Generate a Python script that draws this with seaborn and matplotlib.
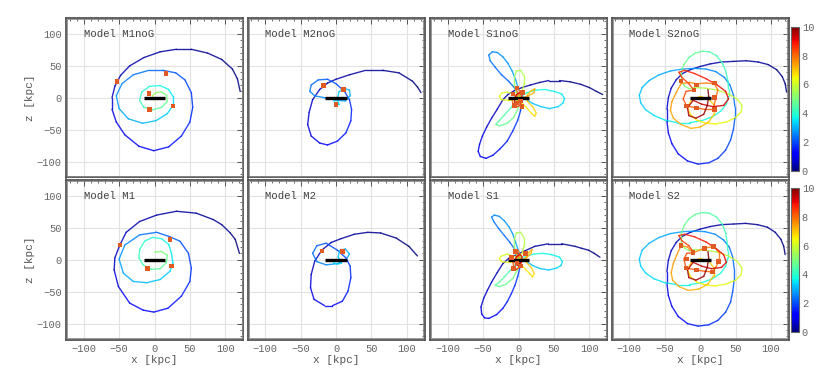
import numpy as np
import matplotlib
matplotlib.use("Agg")
import matplotlib.pyplot as plt
import seaborn as sns
from matplotlib.collections import LineCollection
from matplotlib.colors import Normalize
from matplotlib.cm import ScalarMappable
from matplotlib.patches import Rectangle

# ---- orbit data: x [kpc], z [kpc], time [Gyr] ----
m1nog_x = [121, 117, 110, 95, 75, 52, 31, 8, -15, -35, -48, -56, -60, -60, -54, -42, -22, -1, 20, 38, 50, 54, 52, 43, 30, 12, -8, -30, -46, -54, -50, -37, -17, 2, 18, 26, 26, 20, 8, -7, -18, -21, -15, -3, 10, 18, 17, 10, 2, -3, -1, 4]
m1nog_z = [10, 30, 45, 60, 70, 76, 76, 72, 63, 50, 35, 18, 0, -18, -38, -58, -76, -83, -77, -60, -38, -15, 8, 28, 39, 43, 43, 36, 22, 3, -17, -33, -40, -36, -25, -12, 2, 13, 19, 18, 9, -4, -15, -19, -15, -6, 4, 9, 8, 3, -3, -1]
m1nog_t = [0.0, 0.04, 0.08, 0.12, 0.16, 0.2, 0.25, 0.3, 0.36, 0.42, 0.5, 0.58, 0.66, 0.76, 0.88, 1.0, 1.12, 1.24, 1.36, 1.48, 1.6, 1.72, 1.84, 1.96, 2.08, 2.2, 2.32, 2.44, 2.56, 2.68, 2.8, 2.92, 3.04, 3.16, 3.28, 3.38, 3.48, 3.6, 3.75, 3.9, 4.05, 4.2, 4.35, 4.5, 4.65, 4.8, 4.95, 5.1, 5.3, 5.55, 5.8, 6.1]
m1nog_mx = [-53, 16, -8, 26, -7]
m1nog_mz = [25, 38, 7, -13, -18]

m1_x = [120, 114, 107, 95, 83, 59, 31, 3, -21, -40, -49, -56, -57, -51, -35, -16, -1, 19, 38, 50, 52, 48, 36, 22, 3, -21, -42, -50, -44, -30, -11, 8, 22, 26, 24, 20, 10, -3, -14, -21, -22, -16, -4, 8, 17, 18, 10, 0]
m1_z = [10, 32, 42, 55, 63, 73, 76, 70, 60, 43, 23, 3, -16, -42, -68, -79, -82, -76, -57, -34, -13, 10, 29, 36, 43, 39, 23, 1, -21, -34, -36, -31, -18, -5, 10, 24, 33, 35, 29, 16, 3, -8, -15, -14, -4, 7, 13, 12]
m1_t = [0.0, 0.05, 0.1, 0.15, 0.2, 0.26, 0.32, 0.38, 0.45, 0.52, 0.6, 0.68, 0.78, 0.9, 1.02, 1.14, 1.24, 1.36, 1.5, 1.64, 1.78, 1.92, 2.06, 2.18, 2.3, 2.44, 2.58, 2.72, 2.86, 3.0, 3.1, 3.2, 3.3, 3.4, 3.52, 3.64, 3.76, 3.88, 4.0, 4.12, 4.24, 4.36, 4.48, 4.6, 4.72, 4.84, 5.0, 5.2]
m1_mx = [-49, 22, 24, -10]
m1_mz = [23, 32, -10, -14]

m2nog_x = [120, 115, 108, 89, 66, 42, 19, 0, -12, -23, -33, -38, -40, -35, -23, -12, 2, 14, 21, 22, 19, 12, 0, -12, -25, -35, -37, -30, -16, 0, 13, 20, 19, 11, 4, 2, 4, -1, -3, 1]
m2nog_z = [8, 17, 26, 39, 43, 43, 36, 29, 23, 13, -3, -23, -42, -60, -71, -74, -68, -55, -36, -18, -3, 10, 22, 29, 28, 20, 10, 3, 0, -4, -5, 3, 12, 15, 9, -3, -10, -10, -4, -1]
m2nog_t = [0.0, 0.04, 0.08, 0.14, 0.2, 0.26, 0.32, 0.38, 0.44, 0.5, 0.58, 0.68, 0.78, 0.9, 1.02, 1.14, 1.36, 1.46, 1.56, 1.66, 1.76, 1.86, 1.98, 2.1, 2.22, 2.32, 2.42, 2.52, 2.62, 2.72, 2.82, 2.92, 3.02, 3.12, 3.22, 3.32, 3.42, 3.5, 3.58, 3.66]
m2nog_mx = [-18, 11, 0]
m2nog_mz = [19, 13, -11]

m2_x = [115, 103, 85, 63, 45, 26, 7, -7, -20, -30, -35, -36, -31, -16, -5, 9, 17, 21, 20, 14, 2, -14, -27, -33, -27, -14, 2, 14, 19, 13, 5, 3, 8, 2, -3, -1]
m2_z = [6, 21, 34, 42, 43, 40, 33, 27, 15, -2, -23, -44, -62, -72, -72, -65, -49, -28, -10, 3, 15, 26, 22, 10, -3, -8, -6, 0, 9, 17, 14, 4, -5, -7, -5, 0]
m2_t = [0.0, 0.05, 0.1, 0.16, 0.22, 0.28, 0.34, 0.4, 0.46, 0.56, 0.68, 0.8, 0.94, 1.08, 1.2, 1.42, 1.52, 1.62, 1.72, 1.82, 1.94, 2.08, 2.2, 2.32, 2.44, 2.56, 2.68, 2.8, 2.9, 3.0, 3.1, 3.2, 3.3, 3.4, 3.5, 3.6]
m2_mx = [-20, 9]
m2_mz = [14, 12.5]

s1nog_x = [119, 110, 100, 88, 73, 58, 43, 30, 17, 5, -6, -15, -22, -30, -38, -45, -51, -55, -57, -54, -46, -36, -26, -16, -8, -1, 3, 4,
           0, -6, -14, -24, -33, -40, -42, -37, -30, -22, -15, -9, -4, 0, 4,
           10, 20, 32, 44, 56, 63, 65, 61, 50, 37, 24, 12, 3,
           -3, -11, -20, -28, -32, -26, -16, -7, -1, 1,
           -3, -6, -6, -3, 3, 8, 8, 5, 1,
           -8, -16, -24, -27, -24, -14, -4,
           4, 11, 18, 23, 25, 20, 12,
           12, 18, 23, 22, 14, 6,
           0, -4, -1, 2, -3, -9, -8, -4, 2, 4, 5, 2, -3, -6, -5, 0, 3, 0]
s1nog_z = [5, 10, 16, 21, 25, 27, 27, 24, 20, 16, 11, 5, -3, -18, -32, -46, -60, -73, -84, -92, -95, -90, -80, -68, -52, -35, -20, -6,
           6, 16, 26, 36, 48, 58, 67, 72, 71, 64, 54, 42, 28, 14, 4,
           -2, -9, -14, -17, -14, -8, -1, 6, 10, 13, 12, 8, 2,
           -5, -16, -27, -37, -42, -44, -40, -31, -18, -6,
           8, 20, 32, 42, 43, 34, 22, 10, 2,
           6, 9, 7, 2, -3, -4, -3,
           -8, -15, -24, -29, -24, -14, -5,
           4, 11, 14, 8, 3, 0,
           5, 14, 16, 9, 2, -2, -9, -15, -12, -4, 5, 8, 5, -2, -8, -9, -3, 0]
s1nog_t = [0.0, 0.03, 0.06, 0.1, 0.14, 0.18, 0.22, 0.26, 0.3, 0.34, 0.38, 0.43, 0.48, 0.56, 0.64, 0.72, 0.8, 0.9, 1.0, 1.1, 1.2, 1.32, 1.44, 1.56, 1.68, 1.8, 1.9, 2.0,
           2.06, 2.12, 2.18, 2.26, 2.34, 2.42, 2.5, 2.58, 2.64, 2.7, 2.76, 2.82, 2.88, 2.94, 3.0,
           3.06, 3.12, 3.2, 3.28, 3.36, 3.44, 3.5, 3.56, 3.64, 3.72, 3.8, 3.86, 3.92,
           4.3, 4.4, 4.5, 4.6, 4.66, 4.72, 4.8, 4.88, 4.96, 5.04,
           5.2, 5.3, 5.4, 5.5, 5.56, 5.64, 5.72, 5.8, 5.88,
           6.0, 6.08, 6.16, 6.24, 6.3, 6.38, 6.46,
           6.54, 6.62, 6.7, 6.76, 6.82, 6.9, 6.98,
           7.06, 7.14, 7.2, 7.26, 7.34, 7.42,
           7.55, 7.7, 7.8, 7.9, 8.0, 8.15, 8.3, 8.45, 8.6, 8.75, 8.9, 9.05, 9.2, 9.35, 9.5, 9.65, 9.8, 10.0]
s1nog_mx = [-2, -8, 6, 3, -6, -2, 5]
s1nog_mz = [15, 6, 8, -5, -12, -8, -14]

s1_x = [115, 107, 99, 89, 80, 61, 42, 23, 9, -3, -14, -22, -30, -38, -44, -49, -53, -52, -48, -42, -31, -22, -16, -10, -5, -1, 2, 3,
        0, -5, -12, -20, -28, -35, -38, -34, -27, -20, -13, -8, -4, 0, 3,
        10, 20, 31, 43, 54, 60, 62, 58, 47, 35, 22, 11, 3,
        -3, -11, -20, -28, -33, -27, -17, -8, -2, 1,
        -3, -6, -6, -3, 3, 8, 8, 5, 1,
        -8, -16, -24, -27, -24, -14, -4,
        4, 10, 16, 20, 22, 18, 11,
        11, 15, 19, 18, 12, 5,
        0, -4, -1, 2, -3, -8, -7, -3, 2, 4, 5, 2, -3, -5, -4, 0, 3, 0]
s1_z = [4, 10, 15, 18, 21, 25, 25, 21, 14, 8, 2, -6, -20, -35, -48, -60, -74, -85, -91, -92, -86, -76, -66, -53, -40, -26, -12, -2,
        6, 16, 27, 38, 49, 60, 67, 70, 68, 61, 51, 40, 27, 14, 4,
        -2, -9, -14, -16, -13, -9, -3, 4, 8, 10, 9, 6, 2,
        -5, -16, -27, -36, -40, -42, -38, -29, -17, -6,
        8, 20, 32, 42, 43, 34, 22, 10, 2,
        6, 9, 6, 2, -3, -4, -3,
        -8, -15, -22, -27, -21, -12, -4,
        4, 12, 16, 10, 4, 0,
        5, 13, 15, 9, 2, -3, -10, -15, -12, -4, 5, 8, 5, -2, -8, -9, -3, 0]
s1_t = s1nog_t
s1_mx = [-4, 10, -2, -7, 3, -10]
s1_mz = [13, 10, -5, -14, -10, 4]

s2nog_x = [122, 120, 116, 108, 96, 82, 65, 47, 30, 14, 0, -14, -25, -34, -41, -45, -47, -47, -45, -40, -31, -18, -3, 12, 25, 36, 43, 47, 49, 49, 47, 42, 34, 22, 8,
           -8, -25, -42, -58, -72, -82, -86, -84, -77, -65, -50, -33, -15, 2, 17, 29, 37, 40, 40,
           39, 36, 31, 23, 13, 3, -7, -16, -23, -27, -27, -22, -15,
           -8, 8, 24, 40, 52, 59, 58, 50, 37, 22, 8, -5, -14, -18,
           -12, 0, 12, 20, 20, 12, 0, -13, -27, -38, -42, -40, -34,
           -27, -15, -5, 8, 20, 25, 22, 20, 18, 6, -5, -19, -24, -20, -9,
           -16, -26, -30, -22, -8, 8, 24, 36, 40, 33, 18, 2,
           -10, -18, -16, -6, 5, 10, 12, 11]
s2nog_z = [9, 22, 33, 44, 52, 56, 58, 57, 56, 53, 49, 44, 38, 28, 15, 0, -18, -36, -55, -72, -88, -99, -104, -102, -95, -82, -66, -49, -32, -14, 4, 20, 32, 41, 45,
           46, 45, 42, 36, 27, 16, 4, -8, -19, -28, -35, -39, -39, -36, -30, -21, -10, 2, 14,
           27, 42, 55, 66, 72, 73, 70, 63, 52, 40, 28, 18, 14,
           16, 15, 12, 6, -2, -12, -22, -31, -38, -41, -40, -35, -26, -15,
           -3, 2, -2, -12, -25, -38, -46, -48, -42, -32, -20, -6, 8,
           22, 24, 22, 23, 22, 12, 0, -10, -18, -18, -16, -13, -2, 10, 12,
           22, 32, 40, 43, 38, 30, 20, 10, -2, -12, -14, -10,
           -4, -16, -28, -32, -26, -12, 2, 13]
s2nog_t = [0.0, 0.03, 0.06, 0.1, 0.14, 0.18, 0.22, 0.26, 0.3, 0.34, 0.38, 0.43, 0.48, 0.54, 0.6, 0.68, 0.78, 0.88, 1.0, 1.12, 1.24, 1.36, 1.48, 1.6, 1.72, 1.84, 1.96, 2.06, 2.16, 2.24, 2.32, 2.4, 2.48, 2.56, 2.64,
           2.72, 2.8, 2.88, 2.96, 3.04, 3.12, 3.2, 3.28, 3.36, 3.44, 3.52, 3.6, 3.68, 3.76, 3.84, 3.9, 3.96, 4.02, 4.08,
           4.16, 4.24, 4.32, 4.4, 4.48, 4.56, 4.64, 4.72, 4.8, 4.88, 4.96, 5.04, 5.12,
           5.5, 5.6, 5.7, 5.8, 5.9, 6.0, 6.1, 6.2, 6.3, 6.4, 6.5, 6.58, 6.66, 6.74,
           6.8, 6.86, 6.92, 6.98, 7.04, 7.1, 7.16, 7.22, 7.28, 7.34, 7.4, 7.46, 7.52,
           7.58, 7.64, 7.7, 7.76, 7.82, 7.88, 7.94, 8.0, 8.06, 8.12, 8.18, 8.24, 8.3, 8.36, 8.42,
           8.5, 8.58, 8.66, 8.74, 8.82, 8.9, 8.98, 9.06, 9.14, 9.22, 9.3, 9.38,
           9.46, 9.54, 9.62, 9.7, 9.78, 9.86, 9.94, 10.0]
s2nog_mx = [-27, -5, 20, 20, 20, -5, -19, -9]
s2nog_mz = [26, 20, 23, 0, -18, -16, -13, 12]

s2_x = [120, 118, 114, 106, 95, 81, 64, 47, 30, 14, 0, -14, -25, -34, -41, -45, -47, -47, -45, -40, -31, -18, -3, 12, 25, 36, 43, 46, 48, 48, 46, 41, 33, 21, 7,
        -8, -25, -42, -58, -72, -82, -86, -84, -77, -65, -50, -33, -15, 2, 17, 29, 36, 39, 39,
        38, 36, 31, 23, 13, 3, -7, -16, -23, -27, -27, -22, -15,
        -8, 8, 24, 40, 52, 59, 58, 50, 37, 22, 8, -5, -14, -18,
        -12, 0, 12, 19, 19, 11, -2, -17, -30, -39, -41, -38, -33,
        -27, -18, -10, 6, 19, 26, 26, 22, 17, 6, -5, -20, -23, -19, -9,
        -16, -26, -30, -22, -8, 8, 22, 33, 37, 30, 16, 2,
        -10, -18, -16, -6, 5, 10, 12, 11]
s2_z = [8, 21, 32, 43, 51, 55, 57, 56, 55, 52, 48, 43, 37, 27, 14, -1, -19, -37, -56, -73, -89, -100, -104, -102, -95, -82, -66, -49, -32, -14, 4, 20, 31, 40, 44,
        45, 44, 41, 35, 26, 15, 1, -10, -21, -30, -36, -39, -39, -36, -30, -21, -10, 2, 14,
        27, 42, 56, 67, 73, 74, 71, 64, 53, 40, 28, 18, 14,
        16, 15, 12, 6, -2, -13, -23, -32, -38, -41, -40, -35, -26, -15,
        -3, 2, -2, -12, -25, -38, -46, -48, -42, -32, -20, -6, 8,
        22, 20, 11, 18, 21, 12, -3, -12, -19, -18, -16, -13, 1, 10, 11,
        22, 30, 38, 40, 36, 28, 18, 8, -4, -12, -14, -10,
        -4, -16, -28, -32, -26, -12, 2, 13]
s2_t = s2nog_t
s2_mx = [-27, -10, 6, 19, 26, 17, -5, -20, -19]
s2_mz = [22, 11, 18, 21, -3, -19, -16, -13, 1]

names = ["Model M1noG", "Model M2noG", "Model S1noG", "Model S2noG",
         "Model M1", "Model M2", "Model S1", "Model S2"]
orbits = [(m1nog_x, m1nog_z, m1nog_t), (m2nog_x, m2nog_z, m2nog_t),
          (s1nog_x, s1nog_z, s1nog_t), (s2nog_x, s2nog_z, s2nog_t),
          (m1_x, m1_z, m1_t), (m2_x, m2_z, m2_t),
          (s1_x, s1_z, s1_t), (s2_x, s2_z, s2_t)]
markers = [(m1nog_mx, m1nog_mz), (m2nog_mx, m2nog_mz), (s1nog_mx, s1nog_mz),
           (s2nog_mx, s2nog_mz), (m1_mx, m1_mz), (m2_mx, m2_mz),
           (s1_mx, s1_mz), (s2_mx, s2_mz)]
bar_x = [-15, 15]
bar_z = [0, 0]
ticks_major = [-100, -50, 0, 50, 100]
cbar_ticks = [0, 2, 4, 6, 8, 10]

sns.set_theme(style="white")
plt.rcParams["font.family"] = ["Liberation Mono", "DejaVu Sans Mono"]
plt.rcParams["text.color"] = "#555555"
plt.rcParams["axes.labelcolor"] = "#555555"
plt.rcParams["xtick.color"] = "#666666"
plt.rcParams["ytick.color"] = "#666666"

W, H = 830, 378
fig = plt.figure(figsize=(W / 100, H / 100), dpi=100)
norm = Normalize(0, 10)

col_left = [66, 247.5, 430, 611.7]
row_top = [18, 180]
ax_w, ax_h = 177, 159.5

for i, (name, orb, mk) in enumerate(zip(names, orbits, markers)):
    r, c = divmod(i, 4)
    ax = fig.add_axes([col_left[c] / W, 1 - (row_top[r] + ax_h) / H, ax_w / W, ax_h / H])
    ax.set_xlim(-125, 125)
    ax.set_ylim(-125, 125)
    ax.set_xticks(ticks_major)
    ax.set_yticks(ticks_major)
    ax.set_xticks(np.arange(-120, 121, 10), minor=True)
    ax.set_yticks(np.arange(-120, 121, 10), minor=True)
    ax.grid(True, which="major", color="#e2e2e2", lw=0.8)
    ax.set_axisbelow(True)
    ax.tick_params(which="both", direction="in", top=True, right=True,
                   labelsize=7.5, pad=3)
    ax.tick_params(which="major", length=4, width=0.7, color="#555555")
    ax.tick_params(which="minor", length=2.2, width=0.6, color="#555555")
    for sp in ax.spines.values():
        sp.set_color("#555555")
        sp.set_linewidth(1.3)
    ax.add_patch(Rectangle((0.008, 0.009), 0.984, 0.982, transform=ax.transAxes,
                           fill=False, ec="#888888", lw=0.6, zorder=5))

    xs, zs, ts = orb
    pts = np.column_stack([xs, zs]).astype(float)
    segs = np.stack([pts[:-1], pts[1:]], axis=1)
    tt = np.asarray(ts, dtype=float)
    lc = LineCollection(segs, cmap="jet", norm=norm, linewidths=1.0,
                        capstyle="round", alpha=0.85)
    lc.set_array((tt[:-1] + tt[1:]) / 2)
    ax.add_collection(lc)

    ax.plot(bar_x, bar_z, color="black", lw=2.4, solid_capstyle="butt", zorder=3)
    sns.scatterplot(x=mk[0], y=mk[1], marker="s", s=11, color="#e05a22",
                    edgecolor="none", ax=ax, zorder=4, legend=False)

    ax.text(-100, 100, name, ha="left", va="center", fontsize=7.7, color="#444444")

    if c == 0:
        ax.set_ylabel("z [kpc]", fontsize=8, labelpad=1)
    else:
        ax.tick_params(labelleft=False)
    if r == 1:
        ax.set_xlabel("x [kpc]", fontsize=8, labelpad=1)
    else:
        ax.tick_params(labelbottom=False)

for r, ctop in enumerate([26.7, 188]):
    cax = fig.add_axes([791 / W, 1 - (ctop + 144) / H, 8 / W, 144 / H])
    cb = fig.colorbar(ScalarMappable(norm=norm, cmap="jet"), cax=cax)
    cb.set_ticks(cbar_ticks)
    cb.outline.set_edgecolor("#666666")
    cb.outline.set_linewidth(0.8)
    cax.tick_params(labelsize=7.5, length=2, width=0.6, direction="in", pad=2,
                    colors="#666666")

fig.savefig("out.png", dpi=100)
